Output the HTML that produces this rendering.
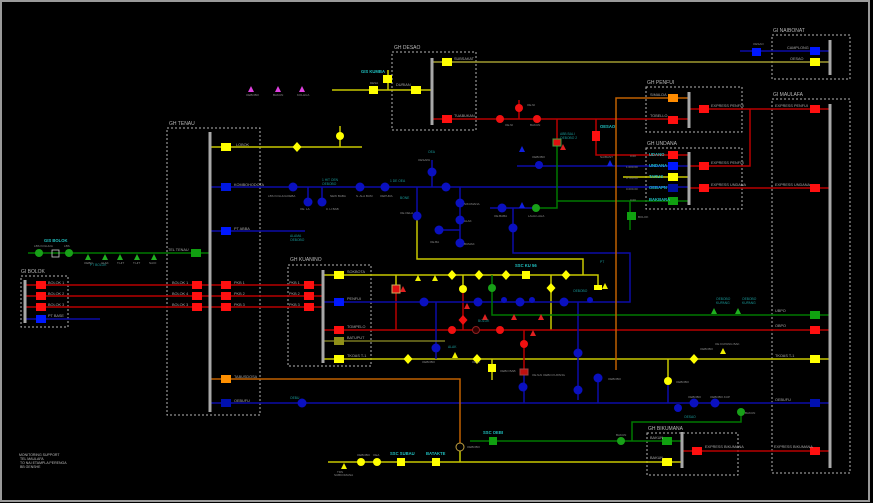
<!DOCTYPE html>
<html><head><meta charset="utf-8"><style>
html,body{margin:0;padding:0;background:#000;}
svg{display:block;}
text{font-family:"Liberation Sans",sans-serif;}
</style></head><body>
<svg width="873" height="503" viewBox="0 0 873 503" xmlns="http://www.w3.org/2000/svg">
<rect width="873" height="503" fill="#000"/>
<rect x="1" y="1" width="868" height="500" fill="none" stroke="#9a9a9a" stroke-width="2"/>

<!-- dashed boxes -->
<g fill="none" stroke="#b5b5b5" stroke-width="1" stroke-dasharray="2,2">
<rect x="167" y="128" width="93" height="287"/>
<rect x="21" y="276" width="47" height="51"/>
<rect x="392" y="52" width="84" height="78"/>
<rect x="772" y="35" width="78" height="44"/>
<rect x="646" y="87" width="96" height="45"/>
<rect x="646" y="148" width="96" height="61"/>
<rect x="772" y="99" width="78" height="374"/>
<rect x="288" y="265" width="83" height="101"/>
<rect x="647" y="433" width="91" height="42"/>
</g>
<g fill="#b8b8b8" font-size="5">
<text x="169" y="125">GH TENAU</text>
<text x="21" y="273">GI BOLOK</text>
<text x="394" y="49">GH DESAO</text>
<text x="773" y="32">GI NAIBONAT</text>
<text x="647" y="84">GH PENFUI</text>
<text x="647" y="145">GH UNDANA</text>
<text x="773" y="96">GI MAULAFA</text>
<text x="290" y="261">GH KUANINO</text>
<text x="648" y="430">GH BIKUMANA</text>
</g>

<!-- lines -->
<g fill="none" stroke-width="1.5">
<g stroke="#c8c800">
<path d="M210 147H362M340 126V147"/>
<path d="M332 90H432M388 70V90"/>
<path d="M323 275H598V288M417 216V259H583V275"/>
<path d="M463 275V289M551 275V330M396 275V285"/>
<path d="M323 359H830M492 359V380M668 359V382"/>
<path d="M328 462H682M460 451V462"/>
<path d="M623 177H689"/>
</g>
<path d="M432 62H830" stroke="#a09a30"/>
<g stroke="#b80000">
<path d="M25 285H323M25 296H323M25 307H323"/>
<path d="M432 119H689M519 100V119M557 119V141"/>
<path d="M596 119V155H689"/>
<path d="M689 109H830M750 109V166H689M689 188H830"/>
<path d="M323 330H830M463 289V330M396 289V330M524 330V372"/>
<path d="M682 451H830"/>
</g>
<g stroke="#0c0ca8">
<path d="M210 187H689M210 231H305M25 319H100M740 51H830"/>
<path d="M323 302H630V253H513V208M490 208H536"/>
<path d="M517 166H689M432 160V187M417 187V216M460 187V245M439 230H460"/>
<path d="M308 187V202M322 187V202"/>
<path d="M436 302V359M578 302V400M598 378V403M524 372V403M668 382V403"/>
<path d="M210 403H830"/>
</g>
<g stroke="#007800">
<path d="M28 253H210"/>
<path d="M557 143V208H536M557 201H689M630 201V230"/>
<path d="M492 275V315H830"/>
<path d="M470 441H682M632 441V422H741V412"/>
</g>
<g stroke="#c06000">
<path d="M210 379H460V443"/>
<path d="M616 370V98H689"/>
</g>
<path d="M323 341H445" stroke="#787820"/>
</g>

<!-- busbars -->
<g stroke="#a8a8a8" stroke-width="3">
<path d="M210 132V412M25 280V323M432 58V125M830 40V75M689 92V128M689 152V205M830 104V468M323 270V363M682 432V468"/>
</g>

<!-- squares -->
<g>
<rect x="221" y="143" width="10" height="8" fill="#ffff00"/>
<rect x="221" y="183" width="10" height="8" fill="#0018e0"/>
<rect x="221" y="227" width="10" height="8" fill="#0018ff"/>
<rect x="221" y="281" width="10" height="8" fill="#ff1010"/>
<rect x="221" y="292" width="10" height="8" fill="#ff1010"/>
<rect x="221" y="303" width="10" height="8" fill="#ff1010"/>
<rect x="221" y="375" width="10" height="8" fill="#ff9000"/>
<rect x="221" y="399" width="10" height="8" fill="#0010b0"/>
<rect x="191" y="249" width="10" height="8" fill="#10a010"/>
<rect x="192" y="281" width="10" height="8" fill="#ff1010"/>
<rect x="192" y="292" width="10" height="8" fill="#ff1010"/>
<rect x="192" y="303" width="10" height="8" fill="#ff1010"/>
<rect x="36" y="281" width="10" height="8" fill="#ff1010"/>
<rect x="36" y="292" width="10" height="8" fill="#ff1010"/>
<rect x="36" y="303" width="10" height="8" fill="#ff1010"/>
<rect x="36" y="315" width="10" height="8" fill="#0018ff"/>
<rect x="442" y="58" width="10" height="8" fill="#ffff00"/>
<rect x="411" y="86" width="10" height="8" fill="#ffff00"/>
<rect x="442" y="115" width="10" height="8" fill="#ff1010"/>
<rect x="369" y="86" width="9" height="8" fill="#ffff00"/>
<rect x="383" y="75" width="9" height="8" fill="#ffff00"/>
<rect x="810" y="47" width="10" height="8" fill="#0018ff"/>
<rect x="810" y="58" width="10" height="8" fill="#ffff00"/>
<rect x="752" y="48" width="9" height="8" fill="#0018ff"/>
<rect x="668" y="94" width="10" height="8" fill="#ff8c00"/>
<rect x="668" y="116" width="10" height="8" fill="#ff1010"/>
<rect x="699" y="105" width="10" height="8" fill="#ff1010"/>
<rect x="668" y="151" width="10" height="8" fill="#ff1010"/>
<rect x="668" y="162" width="10" height="8" fill="#0018ff"/>
<rect x="668" y="173" width="10" height="8" fill="#ffff00"/>
<rect x="668" y="184" width="10" height="8" fill="#0010a0"/>
<rect x="668" y="197" width="10" height="8" fill="#10a010"/>
<rect x="699" y="162" width="10" height="8" fill="#ff1010"/>
<rect x="699" y="184" width="10" height="8" fill="#ff1010"/>
<rect x="627" y="212" width="9" height="8" fill="#10a010"/>
<rect x="592" y="131" width="8" height="10" fill="#ff1010"/>
<rect x="810" y="105" width="10" height="8" fill="#ff1010"/>
<rect x="810" y="184" width="10" height="8" fill="#ff1010"/>
<rect x="810" y="311" width="10" height="8" fill="#10a010"/>
<rect x="810" y="326" width="10" height="8" fill="#ff1010"/>
<rect x="810" y="355" width="10" height="8" fill="#ffff00"/>
<rect x="810" y="399" width="10" height="8" fill="#0010b0"/>
<rect x="810" y="447" width="10" height="8" fill="#ff1010"/>
<rect x="304" y="281" width="10" height="8" fill="#ff1010"/>
<rect x="304" y="292" width="10" height="8" fill="#ff1010"/>
<rect x="304" y="303" width="10" height="8" fill="#ff1010"/>
<rect x="334" y="271" width="10" height="8" fill="#ffff00"/>
<rect x="334" y="298" width="10" height="8" fill="#0018ff"/>
<rect x="334" y="326" width="10" height="8" fill="#ff1010"/>
<rect x="334" y="337" width="10" height="8" fill="#909018"/>
<rect x="334" y="355" width="10" height="8" fill="#ffff00"/>
<rect x="662" y="437" width="10" height="8" fill="#10a010"/>
<rect x="662" y="458" width="10" height="8" fill="#ffff00"/>
<rect x="692" y="447" width="10" height="8" fill="#ff1010"/>
<rect x="489" y="437" width="8" height="8" fill="#10a010"/>
<rect x="397" y="458" width="8" height="8" fill="#ffff00"/>
<rect x="432" y="458" width="8" height="8" fill="#ffff00"/>
<rect x="522" y="271" width="8" height="8" fill="#ffff00"/>
<rect x="488" y="364" width="8" height="8" fill="#ffff00"/>
<rect x="594" y="285" width="8" height="5" fill="#ffff00"/>
<rect x="392" y="285" width="8" height="8" fill="#e01010" stroke="#c8b060" stroke-width="1"/>
<rect x="553" y="139" width="8" height="7" fill="#e01010" stroke="#40a040" stroke-width="1"/>
<rect x="520" y="369" width="8" height="6" fill="#c01010" stroke="#a04040" stroke-width="1"/>
<rect x="52" y="250" width="7" height="7" fill="none" stroke="#cccccc" stroke-width="0.8"/>
</g>

<!-- circles -->
<g fill="#ffff00">
<circle cx="340" cy="136" r="4"/><circle cx="463" cy="289" r="4"/><circle cx="361" cy="462" r="4"/>
<circle cx="377" cy="462" r="4"/><circle cx="668" cy="381" r="4"/>
<path d="M297 142l4.5 5-4.5 5-4.5-5z"/>
<path d="M452 270l4.5 5-4.5 5-4.5-5z"/><path d="M479 270l4.5 5-4.5 5-4.5-5z"/>
<path d="M506 270l4.5 5-4.5 5-4.5-5z"/><path d="M566 270l4.5 5-4.5 5-4.5-5z"/>
<path d="M551 283l4.5 5-4.5 5-4.5-5z"/><path d="M408 354l4.5 5-4.5 5-4.5-5z"/>
<path d="M477 354l4.5 5-4.5 5-4.5-5z"/><path d="M694 354l4.5 5-4.5 5-4.5-5z"/>
</g>
<g fill="#f01010">
<circle cx="500" cy="119" r="4"/><circle cx="537" cy="119" r="4"/><circle cx="519" cy="108" r="4"/>
<circle cx="452" cy="330" r="4"/><circle cx="500" cy="330" r="4"/><circle cx="524" cy="344" r="4"/>
<path d="M463 315l4.5 5-4.5 5-4.5-5z"/>
</g>
<circle cx="476" cy="330" r="3.5" fill="#300000" stroke="#902020" stroke-width="1"/>
<circle cx="460" cy="447" r="4" fill="#000" stroke="#c0a040" stroke-width="1"/>
<g fill="#18a018">
<circle cx="39" cy="253" r="4"/><circle cx="69" cy="253" r="4"/><circle cx="492" cy="288" r="4"/>
<circle cx="536" cy="208" r="4"/><circle cx="621" cy="441" r="4"/><circle cx="741" cy="412" r="4"/>
</g>
<g fill="#0a10c0">
<circle cx="293" cy="187" r="4.5"/><circle cx="360" cy="187" r="4.5"/><circle cx="385" cy="187" r="4.5"/>
<circle cx="446" cy="187" r="4.5"/><circle cx="308" cy="202" r="4.5"/><circle cx="322" cy="202" r="4.5"/>
<circle cx="432" cy="172" r="4.5"/><circle cx="417" cy="216" r="4.5"/><circle cx="460" cy="203" r="4.5"/>
<circle cx="460" cy="220" r="4.5"/><circle cx="460" cy="243" r="4.5"/><circle cx="439" cy="230" r="4.5"/>
<circle cx="502" cy="208" r="4.5"/><circle cx="513" cy="228" r="4.5"/><circle cx="539" cy="165" r="4"/>
<circle cx="302" cy="403" r="4.5"/><circle cx="424" cy="302" r="4.5"/><circle cx="478" cy="302" r="4.5"/>
<circle cx="520" cy="302" r="4.5"/><circle cx="564" cy="302" r="4.5"/><circle cx="578" cy="353" r="4.5"/>
<circle cx="578" cy="390" r="4.5"/><circle cx="598" cy="378" r="4.5"/><circle cx="436" cy="348" r="4.5"/>
<circle cx="523" cy="387" r="4.5"/><circle cx="694" cy="403" r="4.5"/><circle cx="715" cy="403" r="4.5"/>
<circle cx="678" cy="408" r="4"/><circle cx="504" cy="300" r="3"/><circle cx="532" cy="300" r="3"/><circle cx="590" cy="300" r="3"/>
</g>

<!-- triangles -->
<g fill="#e040e0">
<path d="M251 86l3 6h-6z"/><path d="M278 86l3 6h-6z"/><path d="M302 86l3 6h-6z"/>
</g>
<g fill="#20b020">
<path d="M88 254l3 6h-6z"/><path d="M105 254l3 6h-6z"/><path d="M120 254l3 6h-6z"/>
<path d="M137 254l3 6h-6z"/><path d="M154 254l3 6h-6z"/>
<path d="M714 308l3 6h-6z"/><path d="M738 308l3 6h-6z"/>
</g>
<g fill="#f0f000">
<path d="M418 275l3 6h-6z"/><path d="M435 275l3 6h-6z"/><path d="M605 283l3 6h-6z"/>
<path d="M723 348l3 6h-6z"/><path d="M344 463l3 6h-6z"/><path d="M455 352l3 6h-6z"/>
</g>
<g fill="#e02020">
<path d="M485 314l3 6h-6z"/><path d="M514 314l3 6h-6z"/><path d="M541 314l3 6h-6z"/>
<path d="M533 330l3 6h-6z"/><path d="M467 303l3 6h-6z"/><path d="M563 144l3 6h-6z"/><path d="M403 286l3 6h-6z"/>
</g>
<g fill="#1020e0">
<path d="M610 160l3 6h-6z"/><path d="M522 202l3 6h-6z"/><path d="M522 146l3 6h-6z"/>
</g>

<!-- cyan labels -->
<g fill="#20c0c0" font-size="4.2" font-weight="bold">
<text x="44" y="242">GIS BOLOK</text>
<text x="361" y="73">GIS KUMBA</text>
<text x="600" y="128">OESAO</text>
<text x="515" y="267">SSC KU 56</text>
<text x="483" y="434">SSC OEBI</text>
<text x="390" y="455">SSC SUBAU</text>
<text x="426" y="455">BATAKTE</text>
<text x="649" y="156">UDANO</text>
<text x="649" y="167">UNDANA</text>
<text x="649" y="178">TARUS</text>
<text x="649" y="189">OEBAPN</text>
<text x="649" y="201">BAKBARA</text>
</g>
<g fill="#1a9a9a" font-size="3.3">
<text x="322" y="181">1 HIT OEN</text><text x="322" y="185">OEBOBO</text>
<text x="390" y="182">1 DE OEA</text><text x="400" y="199">BONE</text>
<text x="428" y="153">OEA</text><text x="290" y="237">ALAMA</text><text x="290" y="241">OEBOBO</text>
<text x="560" y="135">ABB BALI</text><text x="560" y="139">OEBOBO 2</text>
<text x="716" y="300">OEBOBO</text><text x="742" y="300">OEBOBO</text>
<text x="716" y="304">KUPANG</text><text x="742" y="304">KUPANG</text>
<text x="478" y="322">BOLOK</text><text x="448" y="348">ALAK</text><text x="573" y="292">OEBOBO</text>
<text x="90" y="266">PT BOLOK</text><text x="600" y="263">PT</text>
<text x="290" y="399">OEBU</text><text x="684" y="418">OESAO</text>
</g>

<!-- white labels -->
<g fill="#a8a8a8" font-size="3.8">
<text x="236" y="146">LOBOK</text>
<text x="234" y="186">KOMBOHODOTA</text>
<text x="234" y="230">PT ABBA</text>
<text x="168" y="251">TEL TENAU</text>
<text x="172" y="284">BOLOK 1</text><text x="172" y="295">BOLOK 4</text><text x="172" y="306">BOLOK 3</text>
<text x="234" y="284">PKB 1</text><text x="234" y="295">PKB 2</text><text x="234" y="306">PKB 3</text>
<text x="234" y="378">TABUSDOSA</text><text x="234" y="402">OEBUFU</text>
<text x="48" y="284">BOLOK 1</text><text x="48" y="295">BOLOK 2</text><text x="48" y="306">BOLOK 3</text>
<text x="48" y="317">PT BASE</text>
<text x="289" y="284">PKB 1</text><text x="289" y="295">PKB 2</text><text x="289" y="306">PKB 3</text>
<text x="347" y="273">SOKBOTA</text><text x="347" y="300">PENFUI</text><text x="347" y="328">TOMPELO</text>
<text x="347" y="339">BATUPUT</text><text x="347" y="357">TKOAS T-1</text>
<text x="454" y="60">SUBSAKAT</text><text x="396" y="86">DURIAN</text><text x="454" y="117">TUABUKAN</text>
<text x="787" y="49">CAMPLONG</text><text x="790" y="60">OESAO</text>
<text x="650" y="96">SIMALDA</text><text x="650" y="117">TOBELLO</text>
<text x="711" y="107">EXPRESS PENFUI</text>
<text x="711" y="164">EXPRESS PENFUI</text><text x="711" y="186">EXPRESS UNDANA</text>
<text x="775" y="107">EXPRESS PENFUI</text><text x="775" y="186">EXPRESS UNDANA</text>
<text x="775" y="312">UBPO</text><text x="775" y="327">OBPO</text>
<text x="775" y="357">TKOAS T-1</text><text x="775" y="401">OEBUFU</text>
<text x="774" y="448">EXPRESS BIKUMANA</text>
<text x="650" y="439">BAKUN</text><text x="650" y="459">BAKUN</text>
<text x="705" y="448">EXPRESS BIKUMANA</text>
</g>
<g fill="#8a8a8a" font-size="3">
<text x="630" y="157">0.00</text><text x="626" y="168">1.000.00</text><text x="626" y="179">0.780.00</text>
<text x="626" y="190">0.000.00</text><text x="630" y="201">0.00</text>
<text x="34" y="247">LBS KOLHUA</text><text x="64" y="247">LBS</text>
<text x="84" y="264">OEBO</text><text x="101" y="264">ALAK</text><text x="117" y="264">T.HIT</text>
<text x="133" y="264">T.HIT</text><text x="149" y="264">NAIO</text>
<text x="268" y="197">LBS KOLHUA</text><text x="287" y="197">OEBA</text><text x="330" y="197">NEW BABA</text>
<text x="356" y="197">S. ALA BUM</text><text x="380" y="197">OEPURA</text>
<text x="300" y="210">OE. LA</text><text x="326" y="210">0. LI BAB</text>
<text x="464" y="205">SIKUMANA</text><text x="464" y="222">ALAK</text><text x="464" y="245">BUMAK</text>
<text x="430" y="243">OE.BA</text><text x="400" y="214">OE.OELA</text>
<text x="494" y="217">OE.BABA</text><text x="528" y="217">LAHA LAHA</text>
<text x="418" y="161">OESAPA</text><text x="532" y="158">OEBOBO</text><text x="600" y="158">NAIBANT</text>
<text x="505" y="126">OE.NI</text><text x="530" y="126">BAKUN</text><text x="527" y="106">OE.NI</text>
<text x="246" y="96">OEBOBO</text><text x="273" y="96">BAKUN</text><text x="297" y="96">KOLHUA</text>
<text x="370" y="84">DESA</text><text x="422" y="363">OEBOBO</text><text x="472" y="363">OE.LI</text>
<text x="500" y="372">OEBO BAB</text><text x="532" y="376">OE.NAI OEBO.KUPANG</text>
<text x="608" y="380">OEBOBO</text><text x="676" y="383">OEBOBO</text>
<text x="688" y="398">OEBOBO</text><text x="710" y="398">OEBOBO.KUP</text>
<text x="467" y="448">OEBOBO</text><text x="337" y="473">TDS</text><text x="334" y="476">SUBKOMANA</text>
<text x="357" y="456">OEBOBO</text><text x="373" y="456">OEA</text>
<text x="616" y="436">BAKUN</text><text x="745" y="414">BAKUN</text>
<text x="700" y="350">OEBOBO</text><text x="715" y="345">OE KUPANG BAK</text>
<text x="753" y="45">OESAO</text>
<text x="638" y="218">BOLOK</text>
</g>
<g fill="#bdbdbd" font-size="3.5">
<text x="19" y="456">MONITORING SUPPORT</text>
<text x="20" y="460">TEL MAULAFA</text>
<text x="20" y="464">TO NAI ETAMPLA PERENGA</text>
<text x="20" y="468">BB GENSHE</text>
</g>
</svg>
</body></html>
